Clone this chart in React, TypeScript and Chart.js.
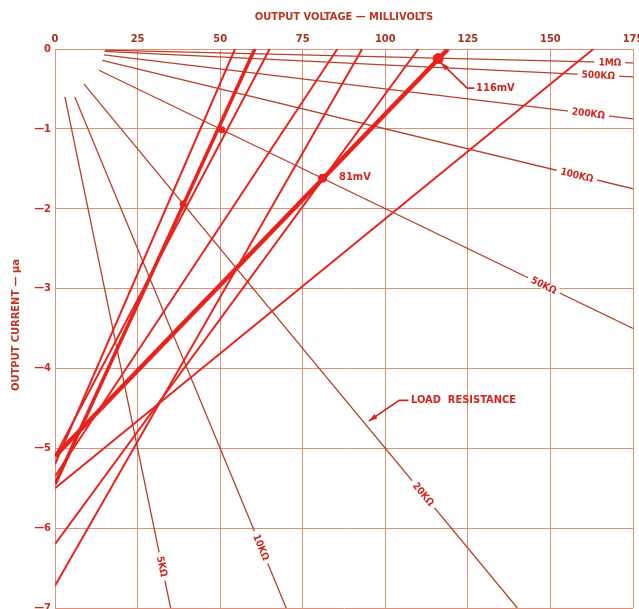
import { useEffect, useRef } from "react";
import { Chart, registerables } from "chart.js";

Chart.register(...registerables);

// ---- data ----
const voltageMinMv = 0;
const voltageMaxMv = 175;
const voltageStepMv = 25;
const currentMinUa = -7;
const currentMaxUa = 0;
const currentStepUa = 1;

// load lines: I = -V / R   (mV / kΩ = µA)
const loadResistanceK = [5, 10, 20, 50, 100, 200, 500, 1000];
const loadLabels = ["5KΩ", "10KΩ", "20KΩ", "50KΩ", "100KΩ", "200KΩ", "500KΩ", "1MΩ"];
const loadStartMv = [3.0, 6.0, 8.8, 13.3, 14.3, 14.8, 15.0, 15.1];
const loadLabelMv = [32.4, 62.4, 111.5, 148, 158, 161.5, 164.5, 168];

// source characteristics: straight lines from short-circuit current to open-circuit voltage
const sourceShortCircuitUa = [-5.2, -5.45, -5.1, -5.35, -6.72, -6.2, -5.1, -5.5];
const sourceOpenCircuitMv = [54.5, 60.5, 65, 85.5, 93, 110, 119, 163];

// marked operating points
const pointMv = [38.8, 50.5, 81, 116];
const pointUa = [-1.94, -1.01, -1.62, -0.12];
const pointCallouts = ["", "", "81mV", "116mV"];

// ---- styles ----
const FONT_FAMILY = '"DejaVu Sans Condensed", "Liberation Sans Narrow", "Liberation Sans", sans-serif';
const GRID = "#e0907a";
const LOAD = "#b5412b";
const SOURCE = "#e8231d";
const TEXT_RED = "#d2261c";
const TITLE_RED = "#bd3420";
const HEAVY = new Set([1, 6]);
const POINT_SIZES = [3.5, 3.5, 4.5, 5.5];

function arrow(ctx: CanvasRenderingContext2D, pts: number[][], color: string) {
  ctx.save();
  ctx.strokeStyle = color;
  ctx.fillStyle = color;
  ctx.lineWidth = 1.6;
  ctx.beginPath();
  ctx.moveTo(pts[0][0], pts[0][1]);
  for (let i = 1; i < pts.length; i++) ctx.lineTo(pts[i][0], pts[i][1]);
  ctx.stroke();
  const [hx, hy] = pts[pts.length - 1];
  const [px, py] = pts[pts.length - 2];
  const a = Math.atan2(hy - py, hx - px);
  ctx.beginPath();
  ctx.moveTo(hx, hy);
  ctx.lineTo(hx - 9 * Math.cos(a - 0.3), hy - 9 * Math.sin(a - 0.3));
  ctx.lineTo(hx - 9 * Math.cos(a + 0.3), hy - 9 * Math.sin(a + 0.3));
  ctx.closePath();
  ctx.fill();
  ctx.restore();
}

const overlay = {
  id: "overlay",
  afterDatasetsDraw(chart: any) {
    const { ctx } = chart;
    const x = chart.scales.x;
    const y = chart.scales.y;
    const X = (v: number) => x.getPixelForValue(v);
    const Y = (v: number) => y.getPixelForValue(v);
    ctx.save();

    // load line labels
    ctx.font = `bold 10px ${FONT_FAMILY}`;
    loadResistanceK.forEach((r, i) => {
      const v = loadLabelMv[i];
      const px = X(v);
      const py = Y(-v / r);
      const ang = Math.atan2(Y(-(v + 1) / r) - py, X(v + 1) - px);
      const text = loadLabels[i];
      const w = ctx.measureText(text).width;
      ctx.save();
      ctx.translate(px, py);
      ctx.rotate(ang);
      ctx.fillStyle = "#ffffff";
      ctx.fillRect(-w / 2 - 4, -4, w + 8, 8);
      ctx.fillStyle = TEXT_RED;
      ctx.textAlign = "center";
      ctx.textBaseline = "middle";
      ctx.fillText(text, 0, 0.5);
      ctx.restore();
    });

    // 116 mV callout
    arrow(ctx, [[X(127), Y(-0.49)], [X(124.8), Y(-0.49)], [X(116.8), Y(-0.17)]], TEXT_RED);
    ctx.fillStyle = TEXT_RED;
    ctx.font = `bold 11px ${FONT_FAMILY}`;
    ctx.textAlign = "left";
    ctx.textBaseline = "middle";
    ctx.fillText(pointCallouts[3], X(127.5), Y(-0.49));
    // 81 mV callout
    ctx.fillText(pointCallouts[2], X(86), Y(-1.6));

    // LOAD RESISTANCE callout
    arrow(ctx, [[X(107), Y(-4.4)], [X(104.2), Y(-4.4)], [X(95), Y(-4.66)]], TEXT_RED);
    ctx.fillText("LOAD  RESISTANCE", X(107.8), Y(-4.4));

    // axis titles
    ctx.fillStyle = TITLE_RED;
    ctx.font = `bold 11px ${FONT_FAMILY}`;
    ctx.textAlign = "center";
    ctx.fillText("OUTPUT VOLTAGE — MILLIVOLTS", 344, 17);
    ctx.save();
    ctx.translate(16, 325);
    ctx.rotate(-Math.PI / 2);
    ctx.fillText("OUTPUT CURRENT — μa", 0, 0);
    ctx.restore();

    ctx.restore();
  },
};

function zeroPadding(s: any) {
  s.paddingLeft = 0;
  s.paddingRight = 0;
  s.paddingTop = 0;
  s.paddingBottom = 0;
}

export default function App() {
  const ref = useRef<HTMLCanvasElement | null>(null);

  useEffect(() => {
    document.body.style.margin = "0";
    if (!ref.current) return;

    const pointSet = {
      label: "points",
      data: pointMv.map((v, i) => ({ x: v, y: pointUa[i] })),
      showLine: false,
      pointRadius: POINT_SIZES,
      pointBackgroundColor: SOURCE,
      pointBorderColor: SOURCE,
      pointBorderWidth: 0,
    };

    const sourceSets = sourceShortCircuitUa.map((isc, i) => ({
      label: `source ${i + 1}`,
      data: [
        { x: 0, y: isc },
        { x: sourceOpenCircuitMv[i], y: 0 },
      ],
      showLine: true,
      borderColor: SOURCE,
      borderWidth: HEAVY.has(i) ? (i === 6 ? 4.5 : 3.6) : 2,
      pointRadius: 0,
    }));

    const loadSets = loadResistanceK.map((r, i) => {
      const end = Math.min(voltageMaxMv, -currentMinUa * r);
      return {
        label: loadLabels[i],
        data: [
          { x: loadStartMv[i], y: -loadStartMv[i] / r },
          { x: end, y: -end / r },
        ],
        showLine: true,
        borderColor: LOAD,
        borderWidth: 1.3,
        pointRadius: 0,
      };
    });

    const chart = new Chart(ref.current, {
      type: "scatter",
      data: { datasets: [pointSet, ...sourceSets, ...loadSets] as any },
      options: {
        animation: false,
        responsive: false,
        devicePixelRatio: 1,
        layout: { autoPadding: false, padding: { left: 0, top: 0, right: 6, bottom: 1 } },
        plugins: { legend: { display: false }, tooltip: { enabled: false } },
        font: { family: FONT_FAMILY },
        scales: {
          x: {
            type: "linear",
            position: "top",
            min: voltageMinMv,
            max: voltageMaxMv,
            afterFit: (s: any) => {
              s.height = 49;
              zeroPadding(s);
            },
            ticks: {
              stepSize: voltageStepMv,
              color: "#a8321c",
              font: { family: FONT_FAMILY, size: 11, weight: "bold" },
              padding: 3,
              maxRotation: 0,
              autoSkip: false,
            },
            grid: { color: GRID, lineWidth: 1, drawTicks: false },
            border: { color: GRID, width: 1 },
          },
          y: {
            type: "linear",
            min: currentMinUa,
            max: currentMaxUa,
            afterFit: (s: any) => {
              s.width = 55;
              zeroPadding(s);
            },
            ticks: {
              stepSize: currentStepUa,
              color: TEXT_RED,
              font: { family: FONT_FAMILY, size: 11, weight: "bold" },
              padding: 4,
              callback: (v: any) => (Number(v) === 0 ? "0" : "—" + Math.abs(Number(v))),
            },
            grid: { color: GRID, lineWidth: 1, drawTicks: false },
            border: { color: GRID, width: 1 },
          },
        },
      },
      plugins: [overlay],
    });

    return () => chart.destroy();
  }, []);

  return (
    <div style={{ width: 639, height: 609, position: "relative", background: "#ffffff" }}>
      <canvas ref={ref} width={639} height={609} style={{ display: "block" }} />
    </div>
  );
}
